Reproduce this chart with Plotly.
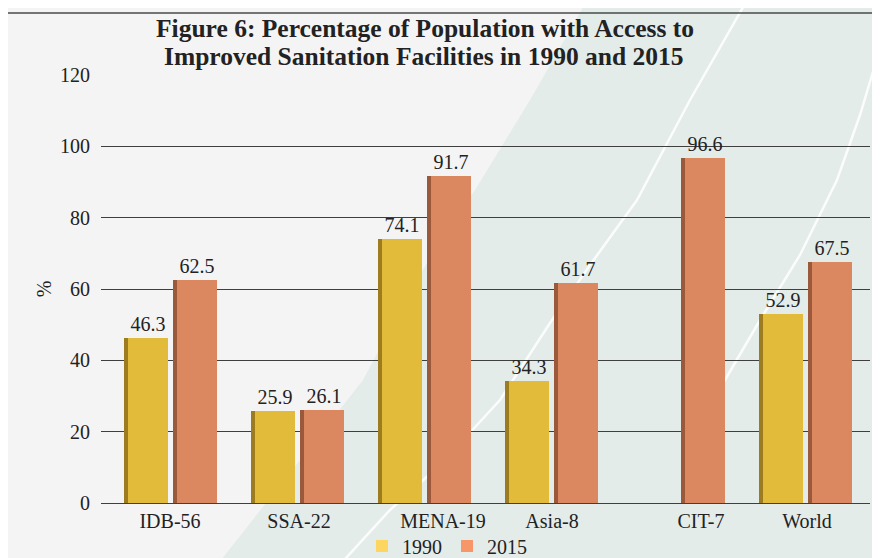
import plotly.graph_objects as go

categories = ["IDB-56", "SSA-22", "MENA-19", "Asia-8", "CIT-7", "World"]
values_1990 = [46.3, 25.9, 74.1, 34.3, None, 52.9]
values_2015 = [62.5, 26.1, 91.7, 61.7, 96.6, 67.5]
y_ticks = [0, 20, 40, 60, 80, 100, 120]
series_names = ["1990", "2015"]
title_lines = ["Figure 6: Percentage of Population with Access to",
               "Improved Sanitation Facilities in 1990 and 2015"]

# ---- layout geometry ----
# page body has an 8px margin, so screen coords = figure coords + 8
SH = 8
W, H = 880, 558
SCR_L, SCR_R, SCR_T, SCR_B = 101, 870, 75, 503   # plot area on screen
L, T = SCR_L - SH, SCR_T - SH
R = W - (SCR_R - SH)
B = H - (SCR_B - SH)
PW, PH = W - L - R, H - T - B
GROUP_PX = 127.0
X0 = -69.0 / GROUP_PX
X1 = X0 + PW / GROUP_PX

def px(x):   # screen px -> paper
    return (x - SH - L) / PW

def py(y):
    return (H - B - (y - SH)) / PH

FONT = "Liberation Serif, Times New Roman, serif"
TXT = "#222222"

x_idx = list(range(len(categories)))

face_c = ["#e3bb3a", "#db8760"]
side_c = ["#9c7c1f", "#9a593b"]
legend_c = ["#fcd660", "#f79669"]

def o(p):
    return p / GROUP_PX

fig = go.Figure()
series = [values_1990, values_2015]
side_off = [o(-46.5), o(2.5)]
face_off = [o(-42.5), o(6.5)]
for i, vals in enumerate(series):
    fig.add_trace(go.Bar(
        x=x_idx, y=vals, offset=side_off[i], width=o(5),
        marker=dict(color=side_c[i], line=dict(width=0)),
        showlegend=False, hoverinfo="skip"))
    fig.add_trace(go.Bar(
        x=x_idx, y=vals, offset=face_off[i], width=o(40.5),
        marker=dict(color=face_c[i], line=dict(width=0)),
        text=["" if v is None else f"{v:.1f}" for v in vals],
        textposition="outside", cliponaxis=False,
        textfont=dict(family=FONT, size=20, color=TXT),
        showlegend=False, name=series_names[i]))
for i in range(2):
    fig.add_trace(go.Bar(
        x=[None], y=[None], name=series_names[i],
        marker=dict(color=legend_c[i], line=dict(width=0)),
        showlegend=True))

# tick label nudges (pixel offsets of label centers from group centers)
label_nudge = [0, 2, 19, 1, 23, 2]
tickvals = [x + o(d) for x, d in zip(x_idx, label_nudge)]

shapes = []
pts = [(590, -5), (530, 100), (475, 190), (440, 240), (400, 310),
       (363, 380), (300, 460), (213, 570)]
path = "M {} {}".format(px(pts[0][0]), py(pts[0][1]))
for (a, b) in pts[1:]:
    path += " L {} {}".format(px(a), py(b))
path += " L {} {} L {} {} Z".format(px(895), py(570), px(895), py(-5))
shapes.append(dict(type="path", path=path, xref="paper", yref="paper",
                   fillcolor="#e4ecea", line=dict(width=0), layer="below"))

def curve(points):
    s = "M {} {}".format(px(points[0][0]), py(points[0][1]))
    for (a, b) in points[1:]:
        s += " L {} {}".format(px(a), py(b))
    return s

shapes.append(dict(type="path", xref="paper", yref="paper", layer="below",
                   path=curve([(750, -5), (690, 100), (637, 200), (590, 265),
                               (550, 323), (500, 400), (440, 465), (390, 510),
                               (335, 570)]),
                   line=dict(color="rgba(255,255,255,0.85)", width=2.5)))
shapes.append(dict(type="path", xref="paper", yref="paper", layer="below",
                   path=curve([(884, 35), (860, 115), (837, 180), (800, 255),
                               (760, 320), (725, 380), (690, 440)]),
                   line=dict(color="rgba(255,255,255,0.85)", width=2.5)))
shapes.append(dict(type="path", xref="paper", yref="paper", layer="below",
                   path="M {} {} L {} {} L {} {}".format(px(7), py(575), px(7), py(13), px(900), py(13)),
                   line=dict(color="#4a4a4a", width=1.5)))

TFONT = dict(family=FONT, size=25.5, color=TXT)
fig.update_layout(
    width=W, height=H,
    margin=dict(l=L, r=R, t=T, b=B, autoexpand=False),
    paper_bgcolor="#f5f4f5", plot_bgcolor="rgba(0,0,0,0)",
    barmode="overlay", bargap=0,
    font=dict(family=FONT, size=20, color=TXT),
    title=dict(text="<b>" + title_lines[0] + "</b>", font=TFONT,
               x=(425 - SH) / W, xref="container", xanchor="center",
               y=1 - (28 - SH) / H, yref="container", yanchor="middle"),
    annotations=[dict(text="<b>" + title_lines[1] + "</b>", font=TFONT,
                      x=(424 - SH - L) / PW, xref="paper", xanchor="center",
                      y=py(57), yref="paper", yanchor="middle", showarrow=False)],
    xaxis=dict(range=[X0, X1], tickmode="array", tickvals=tickvals, ticktext=categories,
               showgrid=False, zeroline=False, showline=False, ticks="",
               ticklabelstandoff=4,
               tickfont=dict(family=FONT, size=20, color=TXT)),
    yaxis=dict(range=[0, 120], tickmode="array", tickvals=y_ticks,
               showgrid=True, gridcolor="#3f3f3f", gridwidth=1.3,
               zeroline=True, zerolinecolor="#3f3f3f", zerolinewidth=1.3,
               showline=False, ticks="", ticklabelstandoff=10,
               tickfont=dict(family=FONT, size=20, color=TXT),
               title=dict(text="%", font=dict(family=FONT, size=20, color=TXT), standoff=3)),
    legend=dict(orientation="h", x=(447 - SH) / W, xref="container", xanchor="center",
                y=1 - (546 - SH) / H, yref="container", yanchor="middle",
                font=dict(family=FONT, size=20, color=TXT),
                bgcolor="rgba(0,0,0,0)", itemwidth=30, traceorder="normal"),
    shapes=shapes,
    showlegend=True,
)

fig.write_html("out.html")
